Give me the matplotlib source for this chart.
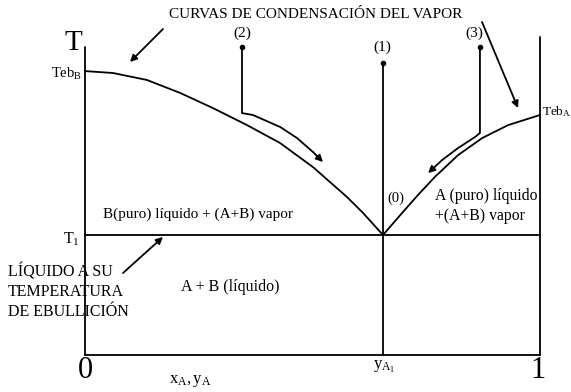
import matplotlib
matplotlib.use("Agg")
import matplotlib.pyplot as plt
import numpy as np

plt.rcParams['font.family'] = ['Liberation Serif', 'DejaVu Serif']
plt.rcParams['mathtext.fontset'] = 'stix'

# ---- data (composition x_A, temperature T in arbitrary units) ----
teb_B = 118.3
teb_A = 100.0
T1 = 50.0
yA1 = 0.655

left_curve_x = [0.0, 0.0615, 0.136, 0.209, 0.281, 0.356, 0.429, 0.501, 0.576, 0.611, 0.655]
left_curve_T = [118.3, 117.5, 114.6, 109.2, 102.9, 95.8, 88.3, 78.3, 65.8, 59.2, 50.0]
right_curve_x = [0.655, 0.697, 0.732, 0.769, 0.820, 0.873, 0.930, 1.0]
right_curve_T = [50.0, 59.2, 66.7, 74.2, 83.3, 90.4, 95.8, 100.0]

# cooling paths (2), (1), (3)
path2_x = [0.345, 0.345, 0.369, 0.429, 0.466, 0.501, 0.523]
path2_T = [128.3, 100.8, 100.0, 95.0, 90.4, 84.6, 80.4]
path1_x = [0.655, 0.655]
path1_T = [121.7, 0.0]
path3_x = [0.868, 0.868, 0.857, 0.820, 0.785, 0.754]
path3_T = [128.3, 92.5, 90.8, 86.25, 81.25, 75.8]

W, H = 571, 392
fig = plt.figure(figsize=(W / 100, H / 100), dpi=100)
ax = fig.add_axes([0, 0, 1, 1])
# x=0 at 85px, x=1 at 540px ; T=0 at 355px from top, 2.4 px per unit
ax.set_xlim(-85 / 455, (W - 85) / 455)
ax.set_ylim((355 - H) / 2.4, 355 / 2.4)
ax.axis('off')

def P(px, py):
    return ((px - 85) / 455, (355 - py) / 2.4)

lw = 1.3
k = 'black'
lk = dict(color=k, lw=lw, solid_joinstyle='round', solid_capstyle='round')
# frame
ax.plot([0, 0], [0, (355 - 47) / 2.4], **lk)
ax.plot([0, 1], [0, 0], **lk)
ax.plot([1, 1], [0, (355 - 37) / 2.4], **lk)
ax.plot([0, 1], [T1, T1], **lk)

# condensation curves
ax.plot(left_curve_x, left_curve_T, **lk)
ax.plot(right_curve_x, right_curve_T, **lk)

# vertical (1)
ax.plot(path1_x, path1_T, **lk)
ax.plot([path1_x[0]], [path1_T[0]], 'o', color=k, ms=3)

# paths (2) and (3) with arrowheads
for px_, pt_ in [(path2_x, path2_T), (path3_x, path3_T)]:
    ax.plot(px_[:-1], pt_[:-1], **lk)
    ax.plot([px_[0]], [pt_[0]], 'o', color=k, ms=3)
    ax.annotate('', xy=(px_[-1], pt_[-1]), xytext=(px_[-2], pt_[-2]),
                arrowprops=dict(arrowstyle='-|>', color=k, lw=lw,
                                mutation_scale=10, shrinkA=0, shrinkB=0))

# straight pointer arrows
def arrow(p0, p1):
    ax.annotate('', xy=P(*p1), xytext=P(*p0),
                arrowprops=dict(arrowstyle='-|>', color=k, lw=lw,
                                mutation_scale=10, shrinkA=0, shrinkB=0))

arrow((163, 29), (130, 62))
arrow((482, 22), (518, 108))
arrow((123, 273), (163, 237))

def txt(px, py, s, size, ha='left', va='center', **kw):
    x, y = P(px, py)
    ax.text(x, y, s, fontsize=size, ha=ha, va=va, color=k, **kw)

txt(316, 14, 'CURVAS DE CONDENSACIÓN DEL VAPOR', 11, ha='center')
txt(242, 33, '(2)', 11, ha='center')
txt(382, 47, '(1)', 11, ha='center')
txt(474, 33, '(3)', 11, ha='center')
txt(73, 43, 'T', 21, ha='center')
txt(82, 74, r'$\mathregular{Teb_{B}}$', 10.5, ha='right')
txt(542, 112, r'$\mathregular{Teb_{A}}$', 9.5, ha='left')
txt(80, 239, r'$\mathregular{T_{1}}$', 11.5, ha='right')
txt(85, 371, '0', 22, ha='center')
txt(538, 371, '1', 22, ha='center')
txt(190, 381, r'$\mathregular{x_{A}, y_{A}}$', 12, ha='center')
txt(384, 367, r'$\mathregular{y_{A_1}}$', 12, ha='center')
txt(198, 214, 'B(puro) líquido + (A+B) vapor', 11, ha='center')
txt(230, 287, 'A + B (líquido)', 11.5, ha='center')
txt(396, 198, '(0)', 10.5, ha='center')
txt(435, 196, 'A (puro) líquido', 11.3, ha='left')
txt(435, 216, '+(A+B) vapor', 11.3, ha='left')
txt(8, 272, 'LÍQUIDO A SU', 11.5, ha='left')
txt(8, 292, 'TEMPERATURA', 11.5, ha='left')
txt(8, 312, 'DE EBULLICIÓN', 11.5, ha='left')

fig.savefig('out.png', dpi=100)
